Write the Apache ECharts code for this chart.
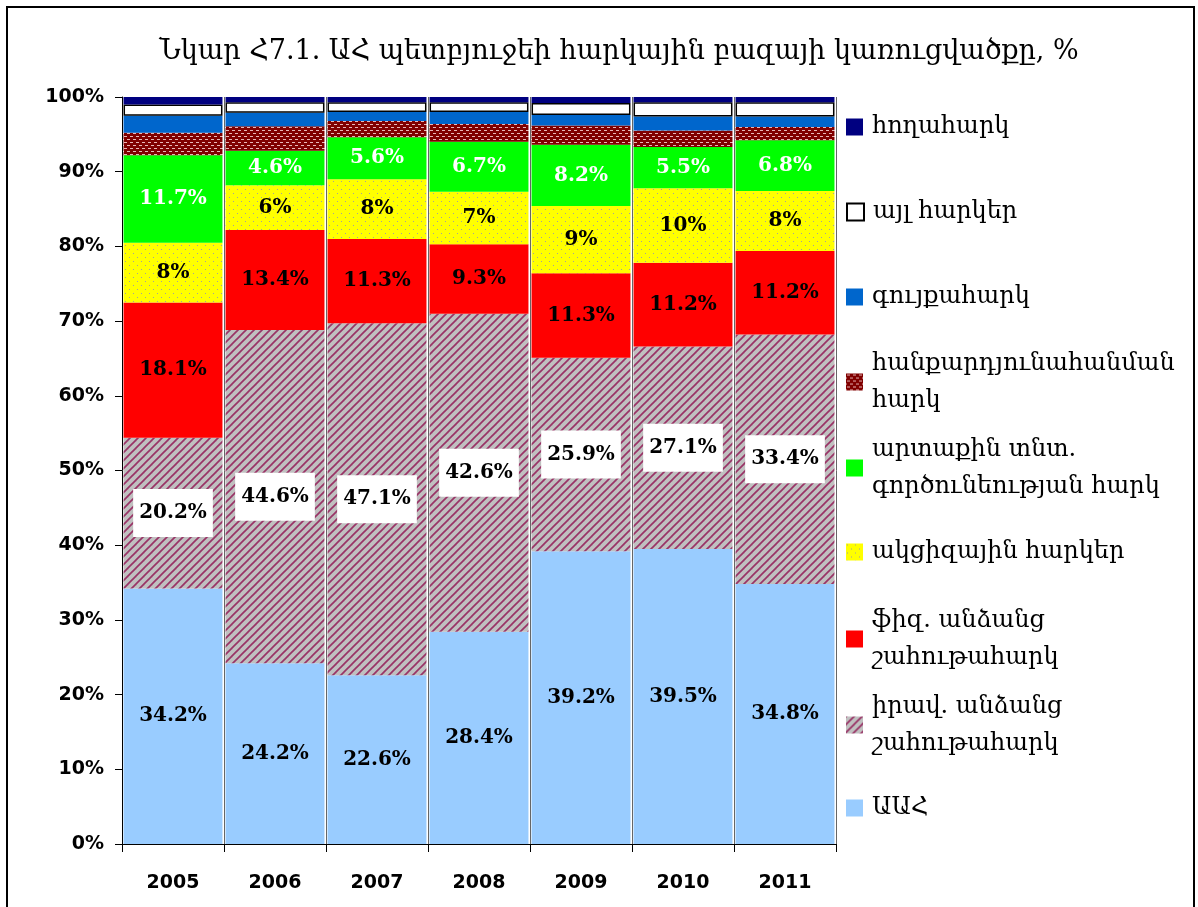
<!DOCTYPE html>
<html>
<head>
<meta charset="utf-8">
<script src="https://cdn.jsdelivr.net/npm/echarts@6/dist/echarts.min.js"></script>
<style>
html,body{margin:0;padding:0;background:#fff;}
#chart{width:1198px;height:907px;}
</style>
</head>
<body>
<div id="chart"></div>
<script>
// ---- data ----
const years = ['2005','2006','2007','2008','2009','2010','2011'];
const yTicks = [0,10,20,30,40,50,60,70,80,90,100];
const aah     = [34.2, 24.2, 22.6, 28.4, 39.2, 39.5, 34.8];
const irav    = [20.2, 44.6, 47.1, 42.6, 25.9, 27.1, 33.4];
const fiz     = [18.1, 13.4, 11.3, 9.3, 11.3, 11.2, 11.2];
const akciz   = [8, 6, 8, 7, 9, 10, 8];
const artaqin = [11.7, 4.6, 5.6, 6.7, 8.2, 5.5, 6.8];
const hanq    = [3.0, 3.3, 2.2, 2.4, 2.6, 2.2, 1.8];
const guyq    = [2.3, 1.8, 1.2, 1.6, 1.4, 1.9, 1.4];
const ayl     = [1.5, 1.4, 1.3, 1.3, 1.6, 1.9, 1.9];
const hogh    = [1.0, 0.7, 0.7, 0.7, 0.8, 0.7, 0.7];

const titleText = 'Նկար Հ7.1. ԱՀ պետբյուջեի հարկային բազայի կառուցվածքը, %';
const names = {
  aah: 'ԱԱՀ',
  irav: 'իրավ. անձանց շահութահարկ',
  fiz: 'ֆիզ. անձանց շահութահարկ',
  akciz: 'ակցիզային հարկեր',
  artaqin: 'արտաքին տնտ. գործունեության հարկ',
  hanq: 'հանքարդյունահանման հարկ',
  guyq: 'գույքահարկ',
  ayl: 'այլ հարկեր',
  hogh: 'հողահարկ'
};
const legendLines = {
  'ԱԱՀ': ['ԱԱՀ'],
  'իրավ. անձանց շահութահարկ': ['իրավ. անձանց', 'շահութահարկ'],
  'ֆիզ. անձանց շահութահարկ': ['ֆիզ. անձանց', 'շահութահարկ'],
  'ակցիզային հարկեր': ['ակցիզային հարկեր'],
  'արտաքին տնտ. գործունեության հարկ': ['արտաքին տնտ.', 'գործունեության հարկ'],
  'հանքարդյունահանման հարկ': ['հանքարդյունահանման', 'հարկ'],
  'գույքահարկ': ['գույքահարկ'],
  'այլ հարկեր': ['այլ հարկեր'],
  'հողահարկ': ['հողահարկ']
};

// ---- patterns ----
function makeCanvas(w, h, draw) {
  const c = document.createElement('canvas');
  c.width = w; c.height = h;
  draw(c.getContext('2d'));
  return c;
}
const hatchPat = {
  image: makeCanvas(8, 8, g => {
    g.fillStyle = '#C0C0C0'; g.fillRect(0, 0, 8, 8);
    g.strokeStyle = '#993366'; g.lineWidth = 1.7;
    [-8, 0, 8].forEach(ox => {
      g.beginPath(); g.moveTo(ox - 1, 9); g.lineTo(ox + 9, -1); g.stroke();
    });
  }),
  repeat: 'repeat'
};
const brownPat = {
  image: makeCanvas(6, 6, g => {
    g.fillStyle = '#800000'; g.fillRect(0, 0, 6, 6);
    g.fillStyle = '#E8B8B8';
    g.fillRect(1, 1, 3, 1);
    g.fillRect(4, 4, 2, 1); g.fillRect(0, 4, 1, 1);
  }),
  repeat: 'repeat'
};
const yellowPat = {
  image: makeCanvas(8, 8, g => {
    g.fillStyle = '#FFFF00'; g.fillRect(0, 0, 8, 8);
    g.fillStyle = '#A0A0A0';
    g.fillRect(1, 1, 1, 1); g.fillRect(5, 5, 1, 1);
  }),
  repeat: 'repeat'
};

const serif = 'DejaVu Serif';
const sans = 'DejaVu Sans';
const pctFmt = p => p.value + '%';
const lblBase = { show: true, position: 'inside', fontFamily: serif, fontWeight: 'bold', fontSize: 20, formatter: pctFmt };

function bar(name, data, color, label, extra) {
  return Object.assign({
    name: name, type: 'bar', stack: 'total', data: data,
    barCategoryGap: '3%',
    itemStyle: { color: color },
    label: label ? Object.assign({}, lblBase, label) : { show: false },
    emphasis: { disabled: true }
  }, extra || {});
}

const series = [
  bar(names.aah, aah, '#99CCFF', { color: '#000' }),
  bar(names.irav, irav, hatchPat, { color: '#000', backgroundColor: '#fff', padding: [14, 6, 14, 6] }),
  bar(names.fiz, fiz, '#FF0000', { color: '#000' }),
  bar(names.akciz, akciz, yellowPat, { color: '#000' }),
  bar(names.artaqin, artaqin, '#00FF00', { color: '#fff' }),
  bar(names.hanq, hanq, brownPat, null),
  bar(names.guyq, guyq, '#0066CC', null),
  bar(names.ayl, ayl, '#FFFFFF', null, { itemStyle: { color: '#FFFFFF', borderColor: '#000', borderWidth: 1.5 } }),
  bar(names.hogh, hogh, '#000080', null)
];

// legend layout: icon centre y for each item, top to bottom
const legendOrder = [names.hogh, names.ayl, names.guyq, names.hanq, names.artaqin, names.akciz, names.fiz, names.irav, names.aah];
const legendIconY = [127, 212, 297, 382, 468, 552, 639, 725, 808];
const LH = 37;
const legends = legendOrder.map((n, i) => {
  const lines = legendLines[n];
  const two = lines.length > 1;
  const blockH = two ? LH * 3 : LH;
  return {
    data: [n],
    left: 846,
    top: legendIconY[i] - blockH / 2,
    padding: 0,
    itemWidth: 17,
    itemHeight: 17,
    icon: 'rect',
    selectedMode: false,
    formatter: () => lines.join('\n'),
    textStyle: {
      fontFamily: serif, fontSize: 24, color: '#000',
      lineHeight: LH,
      padding: two ? [LH, 0, 0, 4] : [0, 0, 0, 4]
    }
  };
});

const chart = echarts.init(document.getElementById('chart'), null, { renderer: 'canvas' });
chart.setOption({
  backgroundColor: '#fff',
  animation: false,
  title: {
    text: titleText,
    left: 614, top: 33, textAlign: 'center',
    textStyle: { fontFamily: serif, fontWeight: 'normal', fontSize: 27, color: '#000' }
  },
  legend: legends,
  grid: { left: 122, right: 362, top: 97, bottom: 63, containLabel: false },
  xAxis: {
    type: 'category',
    data: years,
    axisLine: { show: true, lineStyle: { color: '#000', width: 1 } },
    axisTick: { show: true, interval: 0, length: 8, lineStyle: { color: '#000' } },
    axisLabel: { interval: 0, margin: 30, fontFamily: sans, fontWeight: 'bold', fontSize: 19, color: '#000' },
    splitLine: { show: true, interval: 0, lineStyle: { color: '#666', width: 1 } }
  },
  yAxis: {
    type: 'value',
    min: yTicks[0], max: yTicks[yTicks.length - 1], interval: 10,
    axisLine: { show: true, lineStyle: { color: '#000', width: 1 } },
    axisTick: { show: true, length: 7, lineStyle: { color: '#000' } },
    axisLabel: { margin: 18, formatter: '{value}%', fontFamily: sans, fontWeight: 'bold', fontSize: 19, color: '#000' },
    splitLine: { show: false }
  },
  graphic: [{
    type: 'rect', silent: true, z: 100,
    shape: { x: 7, y: 7, width: 1187, height: 930 },
    style: { fill: null, stroke: '#000', lineWidth: 2 }
  }],
  series: series
});
</script>
</body>
</html>
